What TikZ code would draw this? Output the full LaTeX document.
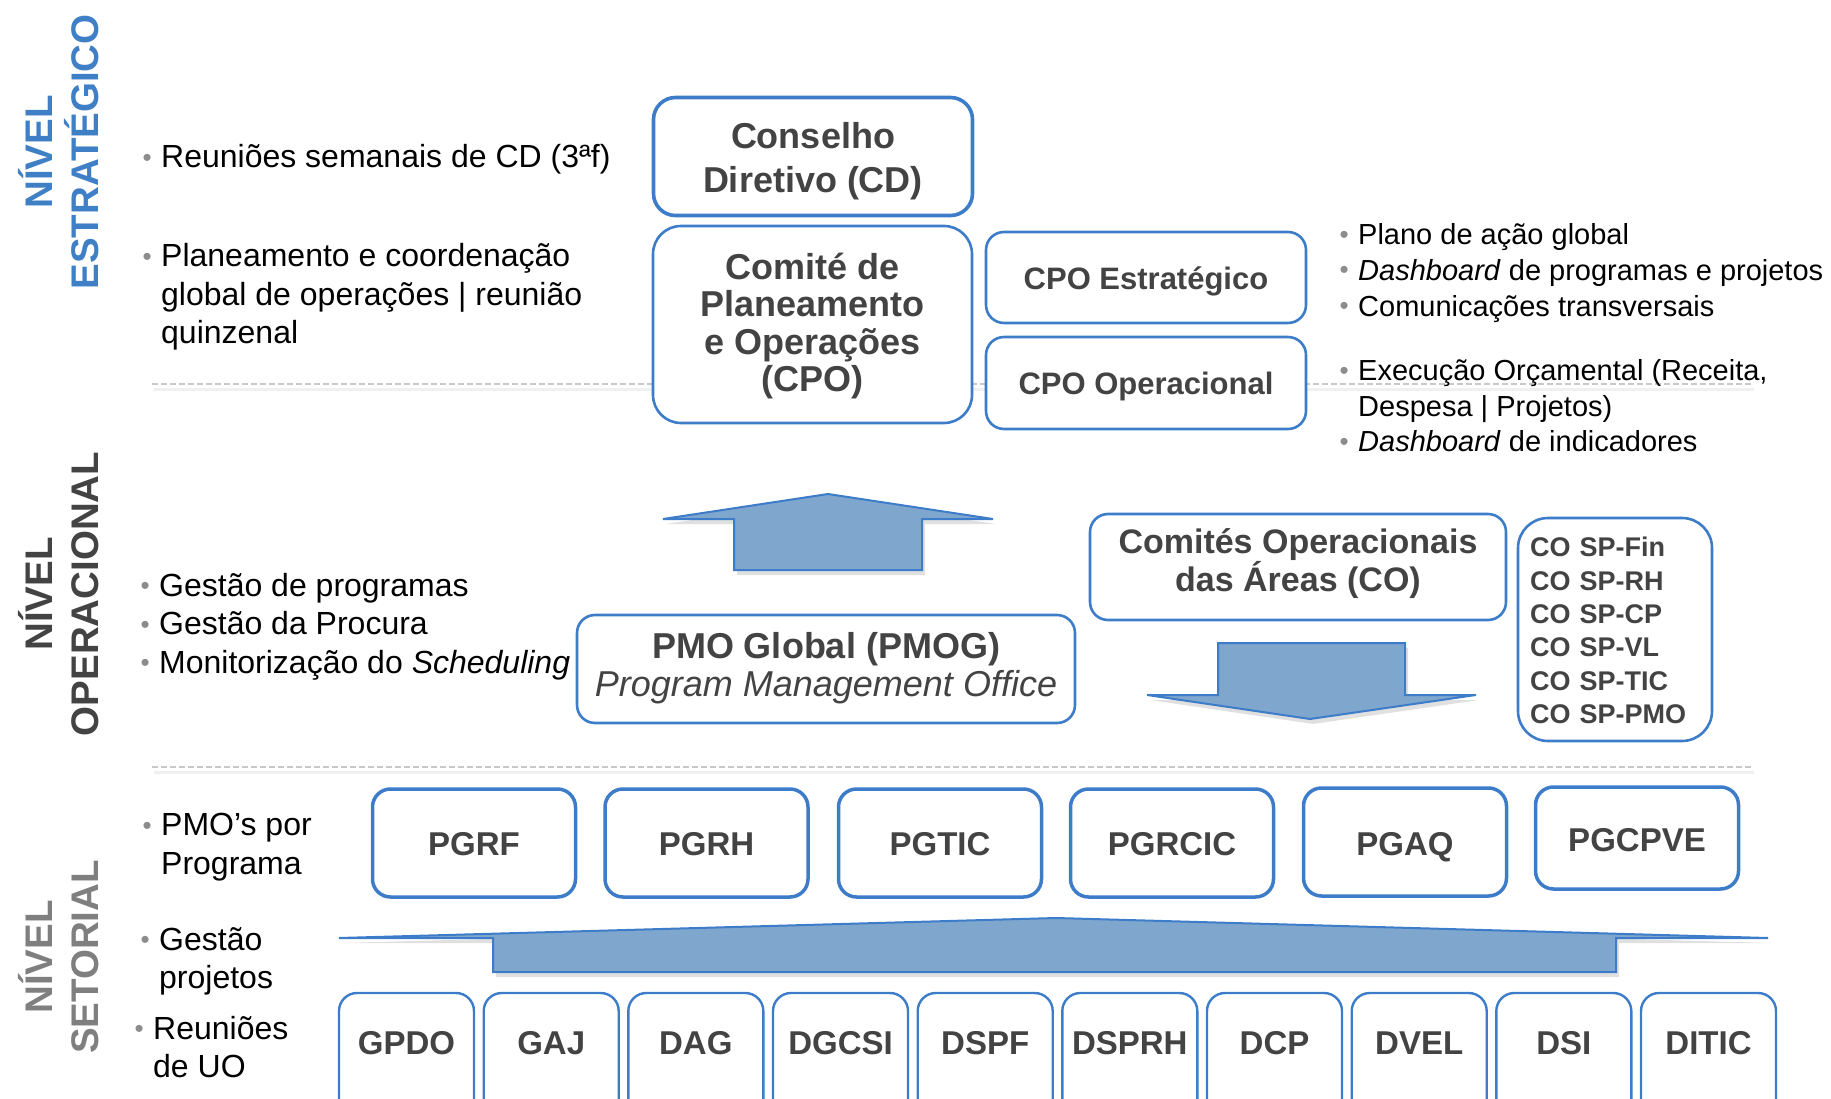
\documentclass[tikz,border=0pt]{standalone}
\usepackage{fontspec}
\setmainfont{Liberation Sans}
\definecolor{boxblue}{HTML}{3D7CC9}
\definecolor{boxtext}{HTML}{434343}
\definecolor{arrowfill}{HTML}{7FA6CD}
\definecolor{stratblue}{HTML}{3F7FC6}
\definecolor{opgray}{HTML}{434343}
\definecolor{setgray}{HTML}{7F7F7F}
\definecolor{bulgray}{HTML}{8C8C8C}
\definecolor{sepgray}{HTML}{C8C8C8}
\newcommand\bul{\leavevmode\llap{{\fontsize{26}{26}\selectfont\textcolor{bulgray}{\raisebox{1.5pt}{•}}}\hspace{9.5pt}}}
\begin{document}
\begin{tikzpicture}[x=1pt,y=-1pt,
  box/.style={draw=boxblue, fill=white, rounded corners=18pt, line width=2.6pt, inner sep=0pt},
  btxt/.style={text=boxtext, align=center, inner sep=0pt},
  pgbox/.style={box, line width=3.5pt, minimum width=203pt, minimum height=108pt},
  uobox/.style={box, line width=2.4pt, minimum width=135pt, minimum height=140pt},
  big/.style={btxt, font=\fontsize{33}{38}\selectfont\bfseries},
  lefttxt/.style={anchor=west, align=left, inner sep=0pt, font=\fontsize{32}{38.5}\selectfont},
  righttxt/.style={anchor=west, align=left, inner sep=0pt, font=\fontsize{29}{35.6}\selectfont},
  vlabel/.style={rotate=90, align=center, inner sep=0pt, font=\fontsize{38.5}{46}\selectfont\bfseries},
  sepline/.style={draw=sepgray, line width=2.5pt, dash pattern=on 6pt off 3pt},
  sepshadow/.style={draw=black!6, line width=3pt},
  bigarrow/.style={fill=arrowfill, draw=boxblue, line width=2pt, line join=miter},
  arrowshadow/.style={fill=black!12}]
\useasboundingbox (0,0) rectangle (1831,1099);
\clip (0,0) rectangle (1831,1099);

% separators
\draw[sepshadow] (154,389) -- (1754,389);
\draw[sepline] (152,384) -- (1752,384);
\draw[sepshadow] (154,772) -- (1754,772);
\draw[sepline] (152,767) -- (1752,767);

% level labels
\node[vlabel, text=stratblue] (lvlstrat) at (59,152) {NÍVEL\\ESTRATÉGICO};
\node[vlabel, text=opgray] (lvlop) at (58.5,594) {NÍVEL\\OPERACIONAL};
\node[vlabel, text=setgray] (lvlset) at (58.5,957) {NÍVEL\\SETORIAL};

% left bullet texts
\node[lefttxt] (t1) at (161,159.5) {\bul Reuniões semanais de CD (3ªf)};
\node[lefttxt] (t2) at (161,297) {\bul Planeamento e coordenação\\global de operações | reunião\\quinzenal};
\node[lefttxt] (t3) at (159,626.5) {\bul Gestão de programas\\\bul Gestão da Procura\\\bul Monitorização do \textit{Scheduling}};
\node[lefttxt] (t4) at (161,847) {\bul PMO’s por\\Programa};
\node[lefttxt] (t5) at (159,961.5) {\bul Gestão\\projetos};
\node[lefttxt] (t6) at (153,1047) {\bul Reuniões\\de UO};

% right bullet texts
\node[righttxt] (r1) at (1358,273) {\bul Plano de ação global\\\bul \textit{Dashboard} de programas e projetos\\\bul Comunicações transversais};
\node[righttxt] (r2) at (1358,406) {\bul Execução Orçamental (Receita,\\Despesa | Projetos)\\\bul \textit{Dashboard} de indicadores};

% strategic boxes
\node[box, line width=3.6pt, rounded corners=22pt, minimum width=319pt, minimum height=118pt] (cd) at (813,156.5) {};
\node[btxt, font=\fontsize{36}{44}\selectfont\bfseries] (cdtxt) at ([yshift=-5pt]cd.center) {Conselho\\Diretivo (CD)};
\node[box, rounded corners=28pt, minimum width=319pt, minimum height=197pt] (cpo) at (812.5,324.5) {};
\node[btxt, font=\fontsize{36}{37.5}\selectfont\bfseries] (cpotxt) at ([yshift=-1.5pt]cpo.center) {Comité de\\Planeamento\\e Operações\\(CPO)};
\node[box, minimum width=320pt, minimum height=91pt] (cpoe) at (1146,277.5) {};
\node[btxt, font=\fontsize{31}{36}\selectfont\bfseries] (cpoetxt) at ([yshift=-3.5pt]cpoe.center) {CPO Estratégico};
\node[box, minimum width=320pt, minimum height=92pt] (cpoo) at (1146,383) {};
\node[btxt, font=\fontsize{31}{36}\selectfont\bfseries] (cpootxt) at ([yshift=-3.5pt]cpoo.center) {CPO Operacional};

% operational level
\begin{scope}[shift={(3,5)}]
\fill[arrowshadow] (828,494) -- (993,519) -- (922,519) -- (922,570) -- (734,570) -- (734,519) -- (663,519) -- cycle;
\fill[arrowshadow] (1218,643) -- (1405,643) -- (1405,695) -- (1476,695) -- (1310,719) -- (1147,695) -- (1218,695) -- cycle;
\end{scope}
\draw[bigarrow] (828,494) -- (993,519) -- (922,519) -- (922,570) -- (734,570) -- (734,519) -- (663,519) -- cycle;
\draw[bigarrow] (1218,643) -- (1405,643) -- (1405,695) -- (1476,695) -- (1310,719) -- (1147,695) -- (1218,695) -- cycle;

\node[box, minimum width=498pt, minimum height=108pt] (pmog) at (826,669) {};
\node[btxt] (pmogtxt) at ([yshift=1pt]pmog.center) {{\fontsize{36}{38}\selectfont\bfseries PMO Global (PMOG)}\\[3pt]{\fontsize{36}{38}\selectfont\itshape Program Management Office}};
\node[box, minimum width=416pt, minimum height=106pt] (co) at (1298,567) {};
\node[btxt, font=\fontsize{34}{38}\selectfont\bfseries] (cotxt) at ([yshift=3pt]co.center) {Comités Operacionais\\das Áreas (CO)};
\node[box, rounded corners=30pt, minimum width=194pt, minimum height=223pt] (colist) at (1615,629.5) {};
\node[btxt, align=left, text width=170pt, font=\fontsize{27}{33.3}\selectfont\bfseries] (colisttxt) at ([xshift=0pt,yshift=-1pt]colist.center) {CO SP-Fin\\CO SP-RH\\CO SP-CP\\CO SP-VL\\CO SP-TIC\\CO SP-PMO};

% sectoral level
\node[pgbox] (pgrf) at (474,843) {};
\node[big] (pgrftxt) at ([yshift=-1pt]pgrf.center) {PGRF};
\node[pgbox] (pgrh) at (706.5,843) {};
\node[big] (pgrhtxt) at ([yshift=-1pt]pgrh.center) {PGRH};
\node[pgbox] (pgtic) at (940,843) {};
\node[big] (pgtictxt) at ([yshift=-1pt]pgtic.center) {PGTIC};
\node[pgbox] (pgrcic) at (1172,843) {};
\node[big] (pgrcictxt) at ([yshift=-1pt]pgrcic.center) {PGRCIC};
\node[pgbox] (pgaq) at (1405,842) {};
\node[big] (pgaqtxt) at ([yshift=-5pt]pgaq.center) {PGAQ};
\node[pgbox, minimum height=102pt] (pgcpve) at (1637,838) {};
\node[big] (pgcpvetxt) at ([yshift=-2pt]pgcpve.center) {PGCPVE};

\fill[arrowshadow, shift={(3,5)}] (339,938) -- (1056,918) -- (1768,938) -- (1616,938) -- (1616,972) -- (493,972) -- (493,938) -- cycle;
\draw[bigarrow] (339,938) -- (1056,918) -- (1768,938) -- (1616,938) -- (1616,972) -- (493,972) -- (493,938) -- cycle;

\node[uobox] (gpdo) at (406.5,1063) {};
\node[big] (gpdotxt) at (406.5,1043) {GPDO};
\node[uobox] (gaj) at (551.2,1063) {};
\node[big] (gajtxt) at (551.2,1043) {GAJ};
\node[uobox] (dag) at (695.8,1063) {};
\node[big] (dagtxt) at (695.8,1043) {DAG};
\node[uobox] (dgcsi) at (840.5,1063) {};
\node[big] (dgcsitxt) at (840.5,1043) {DGCSI};
\node[uobox] (dspf) at (985.2,1063) {};
\node[big] (dspftxt) at (985.2,1043) {DSPF};
\node[uobox] (dsprh) at (1129.8,1063) {};
\node[big] (dsprhtxt) at (1129.8,1043) {DSPRH};
\node[uobox] (dcp) at (1274.5,1063) {};
\node[big] (dcptxt) at (1274.5,1043) {DCP};
\node[uobox] (dvel) at (1419.2,1063) {};
\node[big] (dveltxt) at (1419.2,1043) {DVEL};
\node[uobox] (dsi) at (1563.8,1063) {};
\node[big] (dsitxt) at (1563.8,1043) {DSI};
\node[uobox] (ditic) at (1708.5,1063) {};
\node[big] (ditictxt) at (1708.5,1043) {DITIC};
\end{tikzpicture}
\end{document}
